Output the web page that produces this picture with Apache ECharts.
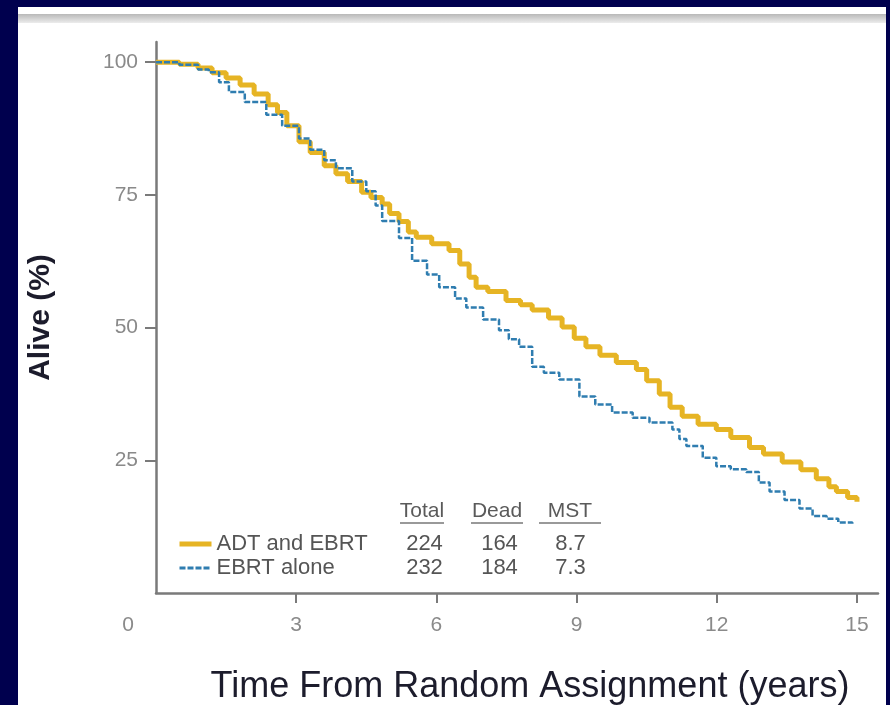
<!DOCTYPE html>
<html><head><meta charset="utf-8">
<script src="https://cdn.jsdelivr.net/npm/echarts@6/dist/echarts.min.js"></script>
<style>html,body{margin:0;padding:0;background:#00004E;}#c{width:890px;height:705px;}</style>
</head><body><div id="c"></div>
<script>
// Kaplan-Meier curves
const adtTimes = [0,0.5,0.9,1.2,1.5,1.8,2.1,2.4,2.6,2.8,3.06,3.3,3.6,3.85,4.1,4.4,4.6,4.84,5.0,5.2,5.4,5.57,5.9,6.27,6.5,6.7,6.85,7.1,7.49,7.8,8.05,8.4,8.69,8.95,9.2,9.5,9.85,10.28,10.5,10.77,11.0,11.26,11.6,11.99,12.3,12.7,13.0,13.4,13.8,14.13,14.4,14.56,14.8,15.0];
const adtSurv  = [100,99.6,98.9,98,97,95.7,94,92,90.5,88,85,83,80.5,79,77.5,75.5,74.5,73.3,71.5,70,68,67,65.8,64.5,62,59.5,57.6,56.8,55.1,54.3,53.3,51.8,50.1,48,46.4,44.8,43.4,42.1,40,37.5,35,33.3,31.8,30.8,29.3,27.4,26.2,24.7,23.2,21.5,20,19.1,18,17.2];
const ebrtTimes = [0,0.5,0.9,1.13,1.35,1.56,1.9,2.36,2.7,3.06,3.3,3.6,3.85,4.2,4.5,4.7,4.84,5.2,5.48,5.8,6.06,6.4,6.64,7.0,7.34,7.55,7.77,8.05,8.3,8.63,9.06,9.4,9.76,10.2,10.56,11.05,11.2,11.35,11.7,11.99,12.3,12.63,12.9,13.13,13.45,13.77,14.05,14.35,14.6,14.9];
const ebrtSurv  = [100,99.5,98.6,98.1,96.2,94.4,92.5,90.1,88,85.6,83.5,81.5,80,77.5,75.7,73,70.1,66.9,62.6,60,57.6,55.5,53.8,51.5,49.5,47.8,46.4,42.6,41.5,40.2,37,35.5,34,33,32.1,30.8,29,27.7,25.5,23.9,23.3,22.8,20.8,19.1,17.5,15.9,14.5,14,13.3,13.0];

const seriesNames = ['ADT and EBRT', 'EBRT alone'];
const totals = ['224', '232'];
const deads  = ['164', '184'];
const msts   = ['8.7', '7.3'];
const tableHeaders = ['Total', 'Dead', 'MST'];

const xTicks = [0, 3, 6, 9, 12, 15];
const yTicks = [0, 25, 50, 75, 100];

const FONT = '"Liberation Sans", Arial, sans-serif';
const chart = echarts.init(document.getElementById('c'));
const pairs = (t, s) => t.map((v, i) => [v, s[i]]);
const headerX = [422, 497, 570];
const headerW = [44, 52, 62];

const graphic = [
  {type:'rect', z:-10, shape:{x:18, y:7, width:868, height:698}, style:{fill:'#ffffff'}, silent:true},
  {type:'rect', z:-9, shape:{x:18, y:14, width:868, height:9},
   style:{fill:new echarts.graphic.LinearGradient(0,0,0,1,[{offset:0,color:'#b8b8b8'},{offset:1,color:'#ececec'}])}, silent:true}
];
tableHeaders.forEach((h, i) => {
  graphic.push({type:'text', x:headerX[i], y:511, style:{text:h, fill:'#5a5a5a', font:'21px ' + FONT, align:'center', verticalAlign:'middle'}});
  graphic.push({type:'line', shape:{x1:headerX[i]-headerW[i]/2, y1:523, x2:headerX[i]+headerW[i]/2, y2:523}, style:{stroke:'#777', lineWidth:1.5}});
});

const rowStyle = {fontSize: 22, color:'#555', fontFamily: FONT, lineHeight: 25};
chart.setOption({
  backgroundColor: '#00004E',
  animation: false,
  graphic: graphic,
  grid: {left:156, right:12, top:42, bottom:112, outerBoundsMode: 'none', containLabel: false},
  legend: {
    orient: 'vertical', left: 172, top: 528, itemGap: 2, itemWidth: 32, itemHeight: 14,
    data: [
      {name: seriesNames[0], lineStyle: {width: 5}},
      {name: seriesNames[1], lineStyle: {width: 3}}
    ],
    itemStyle: {opacity: 0},
    formatter: function (name) {
      const i = seriesNames.indexOf(name);
      return '{n|' + name + '}{a|' + totals[i] + '}{b|' + deads[i] + '}{c|' + msts[i] + '}';
    },
    textStyle: {
      color: '#555', fontSize: 22, fontFamily: FONT,
      rich: {
        n: Object.assign({width: 188}, rowStyle),
        a: Object.assign({width: 40, align: 'center'}, rowStyle),
        b: Object.assign({width: 110, align: 'center'}, rowStyle),
        c: Object.assign({width: 32, align: 'center'}, rowStyle)
      }
    }
  },
  xAxis: {
    type: 'value', min: 0, max: 15.45, interval: 3,
    name: 'Time From Random Assignment (years)', nameLocation: 'middle', nameGap: 76,
    nameTextStyle: {fontSize: 36, fontFamily: FONT, color: '#1c1c2c', padding:[0,0,0,26]},
    axisLine: {lineStyle: {color: '#7a7a7a', width: 2.5}},
    axisTick: {length: 10, lineStyle: {color: '#7a7a7a', width: 2}, customValues: xTicks.slice(1)},
    axisLabel: {
      customValues: xTicks, margin: 22, color: '#8a8a8a', fontSize: 21, fontFamily: FONT,
      formatter: v => v === 0 ? '{z|0}' : String(v),
      rich: {z: {padding: [0, 56, 0, 0], fontSize: 21, color: '#8a8a8a', fontFamily: FONT}}
    },
    splitLine: {show: false}
  },
  yAxis: {
    type: 'value', min: 0, max: 103.8, interval: 25,
    name: 'Alive (%)', nameLocation: 'middle', nameGap: 100, nameRotate: 90,
    nameTextStyle: {fontSize: 30, fontWeight: 'bold', fontFamily: FONT, color: '#1c1c2c'},
    axisLine: {show: true, lineStyle: {color: '#7a7a7a', width: 2.5}},
    axisTick: {show: true, length: 11, lineStyle: {color: '#7a7a7a', width: 2}, customValues: yTicks.slice(1)},
    axisLabel: {customValues: yTicks.slice(1), margin: 18, color: '#8a8a8a', fontSize: 21, fontFamily: FONT},
    splitLine: {show: false}
  },
  series: [
    {name: seriesNames[0], type: 'line', step: 'end', symbol: 'none', data: pairs(adtTimes, adtSurv),
     lineStyle: {color: '#E6B424', width: 5}, itemStyle: {color: '#E6B424'}, z: 2},
    {name: seriesNames[1], type: 'line', step: 'end', symbol: 'none', data: pairs(ebrtTimes, ebrtSurv),
     lineStyle: {color: '#2F7DB0', width: 2.5, type: [6, 2]}, itemStyle: {color: '#2F7DB0'}, z: 3}
  ]
});
</script></body></html>
